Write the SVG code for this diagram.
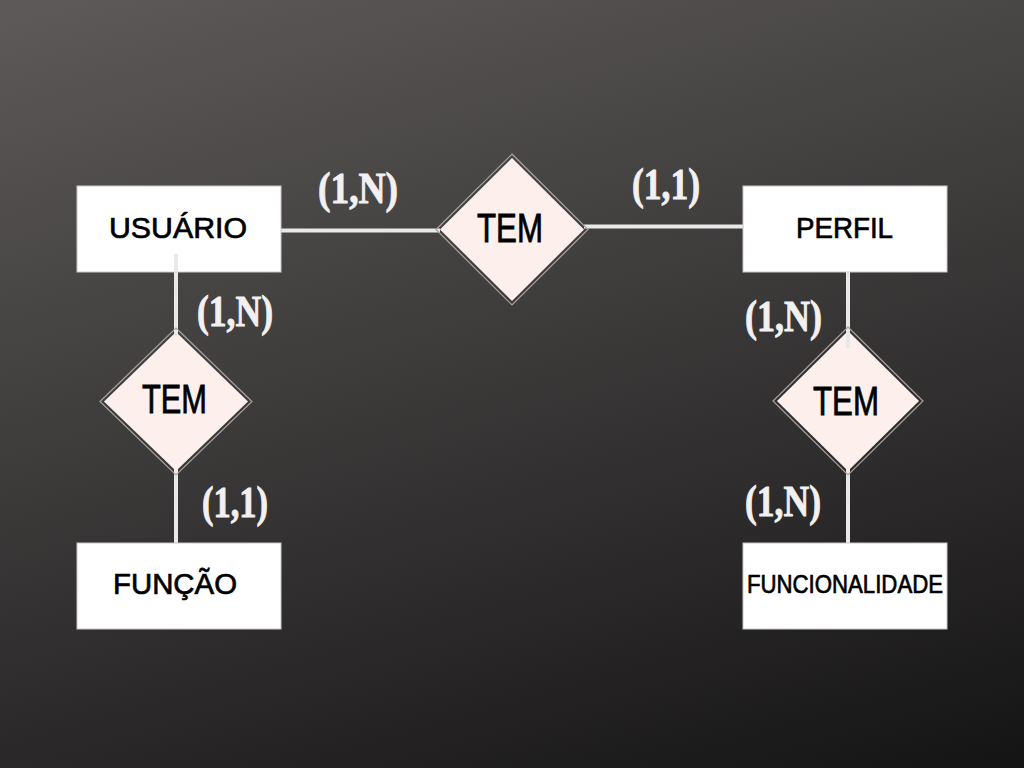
<svg xmlns="http://www.w3.org/2000/svg" width="1024" height="768" viewBox="0 0 1024 768">
<defs>
<linearGradient id="bg" gradientUnits="userSpaceOnUse" x1="0" y1="0" x2="283" y2="983">
<stop offset="0" stop-color="#5e5a5a"/>
<stop offset="1" stop-color="#151414"/>
</linearGradient>
<style>
.ent{fill:#ffffff;stroke:#c8c8c8;stroke-width:1}
.entt{font-family:"Liberation Sans",Arial,sans-serif;font-size:30px;fill:#000;stroke:#000;stroke-width:0.7}
.relo{fill:none;stroke:#a8a2a2;stroke-width:1.2}
.reli{fill:#fcefec;stroke:none}
.relt{font-family:"Liberation Sans",Arial,sans-serif;font-size:40px;fill:#000;stroke:#000;stroke-width:0.8}
.card{font-family:"Liberation Serif","Times New Roman",serif;font-weight:bold;font-size:44px;fill:#f2f0f0;stroke:#f2f0f0;stroke-width:0.9}
.ln{stroke:#e9e9ea;stroke-width:4;fill:none}
</style>
</defs>
<rect width="1024" height="768" fill="url(#bg)"/>

<g id="connectors">
<line class="ln" x1="281" y1="230.5" x2="440" y2="230.5"/>
<line class="ln" x1="584" y1="226.5" x2="743" y2="226.5"/>
<line class="ln" x1="176" y1="254" x2="176" y2="334"/>
<line class="ln" x1="176" y1="467" x2="176" y2="543"/>
<line class="ln" x1="848" y1="272" x2="848" y2="348"/>
<line class="ln" x1="848" y1="467" x2="848" y2="543"/>
</g>

<g id="usuario">
<rect class="ent" x="77" y="186" width="204" height="86"/>
<line class="ln" x1="176" y1="254" x2="176" y2="272"/>
<text class="entt" x="109" y="238" textLength="138" lengthAdjust="spacingAndGlyphs">USUÁRIO</text>
</g>
<g id="perfil">
<rect class="ent" x="743" y="186" width="204" height="86"/>
<text class="entt" x="796" y="238" textLength="97" lengthAdjust="spacingAndGlyphs">PERFIL</text>
</g>
<g id="funcao">
<rect class="ent" x="77" y="543" width="204" height="86"/>
<text class="entt" x="113" y="594" textLength="124" lengthAdjust="spacingAndGlyphs">FUNÇÃO</text>
</g>
<g id="funcionalidade">
<rect class="ent" x="743" y="543" width="204" height="86"/>
<text class="entt" x="747" y="593" style="font-size:26px" textLength="196" lengthAdjust="spacingAndGlyphs">FUNCIONALIDADE</text>
</g>

<g id="tem-center">
<polygon class="relo" points="512,154 588,229.5 512,305 436,229.5"/>
<polygon class="reli" points="512,158 584,229.5 512,301 440,229.5"/>
<text class="relt" x="477" y="242" textLength="66" lengthAdjust="spacingAndGlyphs">TEM</text>
</g>
<g id="tem-left">
<polygon class="relo" points="176,328 252,401.5 176,475 100,401.5"/>
<polygon class="reli" points="176,332 248,401.5 176,471 104,401.5"/>
<line class="ln" x1="176" y1="330" x2="176" y2="336"/>
<text class="relt" x="142" y="413" textLength="65" lengthAdjust="spacingAndGlyphs">TEM</text>
</g>
<g id="tem-right">
<polygon class="relo" points="848,327 923,401 848,475 773,401"/>
<polygon class="reli" points="848,331 919,401 848,471 777,401"/>
<line class="ln" x1="848" y1="330" x2="848" y2="348"/>
<text class="relt" x="813" y="415" textLength="66" lengthAdjust="spacingAndGlyphs">TEM</text>
</g>

<g id="cardinalities">
<text class="card" x="318" y="203" textLength="80" lengthAdjust="spacingAndGlyphs">(1,N)</text>
<text class="card" x="632" y="199" textLength="68" lengthAdjust="spacingAndGlyphs">(1,1)</text>
<text class="card" x="197" y="326" textLength="76" lengthAdjust="spacingAndGlyphs">(1,N)</text>
<text class="card" x="202" y="517" textLength="66" lengthAdjust="spacingAndGlyphs">(1,1)</text>
<text class="card" x="745" y="331" textLength="77" lengthAdjust="spacingAndGlyphs">(1,N)</text>
<text class="card" x="745" y="516" textLength="76" lengthAdjust="spacingAndGlyphs">(1,N)</text>
</g>
</svg>
